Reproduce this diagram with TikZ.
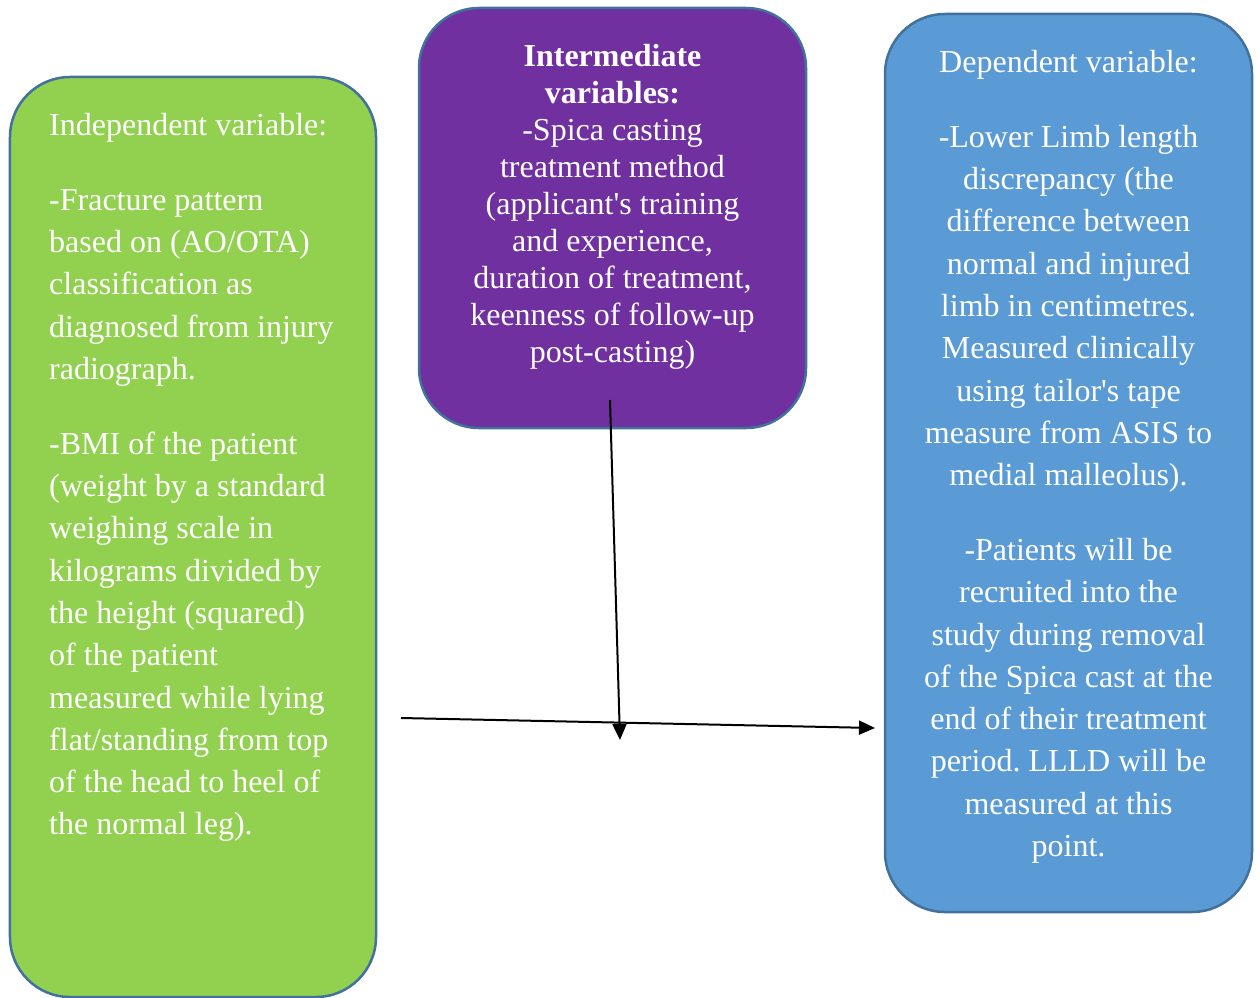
\documentclass[tikz,border=0pt]{standalone}
\usepackage{fontspec}
\setmainfont{Liberation Serif}
\usetikzlibrary{arrows.meta}
\definecolor{gfill}{HTML}{92D050}
\definecolor{pfill}{HTML}{7030A0}
\definecolor{bfill}{HTML}{5B9BD5}
\definecolor{edgeblue}{HTML}{41719C}
\frenchspacing
\begin{document}
\begin{tikzpicture}[x=1bp,y=-1bp,
  box/.style={draw=edgeblue, line width=2.5bp, rounded corners=60bp, inner sep=0pt},
  txt/.style={text=white, inner sep=0pt, font=\fontsize{32bp}{42.3bp}\selectfont},
  ptxt/.style={text=white, inner sep=0pt, font=\fontsize{32bp}{36.9bp}\selectfont},
  conn/.style={line width=2bp, -{Triangle[length=16bp,width=14bp]}}]
\useasboundingbox (0,0) rectangle (1260,998);
\node[box, fill=gfill, minimum width=366bp, minimum height=920bp] (green) at (193,537) {};
\node[box, fill=pfill, minimum width=387bp, minimum height=420bp] (purple) at (612.5,218) {};
\node[box, fill=bfill, minimum width=367bp, minimum height=898bp] (blue) at (1068.5,463) {};

\node[txt, align=left, anchor=north west] (gtext) at (49,113) {Independent variable:\\[32.5bp]
-Fracture pattern\\ based on (AO/OTA)\\ classification as\\ diagnosed from injury\\ radiograph.\\[32.5bp]
-BMI of the patient\\ (weight by a standard\\ weighing scale in\\ kilograms divided by\\ the height (squared)\\ of the patient\\ measured while lying\\ flat/standing from top\\ of the head to heel of\\ the normal leg).};

\node[ptxt, align=center, anchor=north] (ptext) at (612.5,44.5) {\textbf{Intermediate}\\ \textbf{variables:}\\
-Spica casting\\ treatment method\\ (applicant\textquotesingle s training\\ and experience,\\ duration of treatment,\\ keenness of follow-up\\ post-casting)};

\node[txt, align=center, anchor=north] (btext) at (1068.5,50) {Dependent variable:\\[32.5bp]
-Lower Limb length\\ discrepancy (the\\ difference between\\ normal and injured\\ limb in centimetres.\\ Measured clinically\\ using tailor\textquotesingle s tape\\ measure from ASIS to\\ medial malleolus).\\[32.5bp]
-Patients will be\\ recruited into the\\ study during removal\\ of the Spica cast at the\\ end of their treatment\\ period. LLLD will be\\ measured at this\\ point.};

\coordinate (hstart) at (401,718);
\coordinate (hend) at (875,728);
\coordinate (vstart) at (610,400);
\coordinate (vend) at (620,740);
\draw[conn] (hstart) -- (hend);
\draw[conn] (vstart) -- (vend);
\end{tikzpicture}
\end{document}
